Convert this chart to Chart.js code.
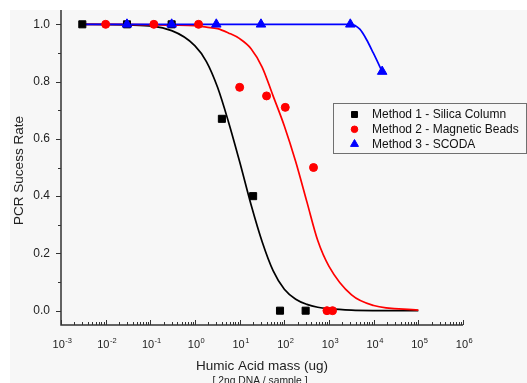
<!DOCTYPE html>
<html>
<head>
<meta charset="utf-8">
<script src="https://cdn.jsdelivr.net/npm/chart.js@4.4.1/dist/chart.umd.min.js"></script>
<style>
  body { margin: 0; background: #ffffff; }
  #wrap { width: 527px; height: 383px; }
</style>
</head>
<body>
<div id="wrap"><canvas id="grafico"></canvas></div>
<script>
// measured points
const method1X = [0.003, 0.03, 0.3, 4, 20, 80, 300]
const method1Y = [1.0, 1.0, 1.0, 0.67, 0.40, 0.0, 0.0]
const method2X = [0.01, 0.12, 1.2, 10, 40, 105, 450, 900, 1200]
const method2Y = [1.0, 1.0, 1.0, 0.78, 0.75, 0.71, 0.50, 0.0, 0.0]
const method3X = [0.03, 0.3, 3, 30, 3000, 15500]
const method3Y = [1.0, 1.0, 1.0, 1.0, 1.0, 0.835]

// fitted curves
const fitX = [0.003, 0.03, 0.3, 1, 1.8, 3.2, 5.6, 10, 18, 32, 56, 100, 180, 320, 560, 1000, 3200, 10000, 100000]
const fit1Y = [1.0, 0.998, 0.978, 0.925, 0.87, 0.78, 0.66, 0.52, 0.37, 0.24, 0.14, 0.075, 0.04, 0.022, 0.012, 0.007, 0.002, 0.0005, 0.0]
const fit2Y = [1.0, 1.0, 0.997, 0.995, 0.99, 0.985, 0.97, 0.95, 0.915, 0.85, 0.75, 0.645, 0.52, 0.38, 0.245, 0.155, 0.055, 0.018, 0.002]
const fit3X = [0.003, 0.03, 0.3, 3, 30, 300, 3000, 4900, 6900, 9800, 15500]
const fit3Y = [1.0, 1.0, 1.0, 1.0, 1.0, 1.0, 1.0, 0.983, 0.947, 0.90, 0.835]

const legendas = ['Method 1 - Silica Column', 'Method 2 - Magnetic Beads', 'Method 3 - SCODA']
const yMajor = [0.0, 0.2, 0.4, 0.6, 0.8, 1.0]
const yMinor = [0.1, 0.3, 0.5, 0.7, 0.9]
const xDecadas = [-3, -2, -1, 0, 1, 2, 3, 4, 5, 6]
const tituloX = 'Humic Acid mass (ug)'
const subtituloX = '[ 2ng DNA / sample ]'
const tituloY = 'PCR Sucess Rate'

function pares(xs, ys) {
    return xs.map((x, i) => ({ x: x, y: ys[i] }))
}

const fundo = {
    id: 'fundo',
    beforeDraw(chart) {
        const ctx = chart.ctx
        ctx.save()
        ctx.fillStyle = '#ffffff'
        ctx.fillRect(0, 0, chart.width, chart.height)
        ctx.fillStyle = '#f7f7f7'
        ctx.fillRect(10, 10, chart.width - 10, chart.height - 10)
        ctx.restore()
    }
}

const eixos = {
    id: 'eixos',
    afterDraw(chart) {
        const ctx = chart.ctx
        const x = chart.scales.x
        const y = chart.scales.y
        const area = chart.chartArea
        ctx.save()
        ctx.strokeStyle = '#333333'
        ctx.fillStyle = '#222222'
        ctx.lineWidth = 1.5
        ctx.beginPath()
        ctx.moveTo(area.left, area.top)
        ctx.lineTo(area.left, area.bottom)
        ctx.lineTo(area.right, area.bottom)
        ctx.stroke()

        ctx.lineWidth = 1
        ctx.beginPath()
        yMajor.forEach(v => {
            const py = Math.round(y.getPixelForValue(v)) + 0.5
            ctx.moveTo(area.left - 5, py); ctx.lineTo(area.left, py)
        })
        yMinor.forEach(v => {
            const py = Math.round(y.getPixelForValue(v)) + 0.5
            ctx.moveTo(area.left - 3, py); ctx.lineTo(area.left, py)
        })
        xDecadas.forEach(d => {
            const px = Math.round(x.getPixelForValue(Math.pow(10, d))) + 0.5
            ctx.moveTo(px, area.bottom); ctx.lineTo(px, area.bottom - 5)
            if (d < 6) {
                for (let k = 2; k < 10; k++) {
                    const pm = Math.round(x.getPixelForValue(k * Math.pow(10, d))) + 0.5
                    ctx.moveTo(pm, area.bottom); ctx.lineTo(pm, area.bottom - 3)
                }
            }
        })
        ctx.stroke()

        ctx.font = '12px "Liberation Sans", Arial, sans-serif'
        ctx.textAlign = 'right'
        ctx.textBaseline = 'middle'
        yMajor.forEach(v => {
            ctx.fillText(v.toFixed(1), area.left - 11, y.getPixelForValue(v))
        })

        xDecadas.forEach(d => {
            const px = x.getPixelForValue(Math.pow(10, d))
            ctx.font = '11px "Liberation Sans", Arial, sans-serif'
            const wb = ctx.measureText('10').width
            ctx.font = '7.5px "Liberation Sans", Arial, sans-serif'
            const we = ctx.measureText(String(d)).width
            const x0 = px - (wb + we) / 2 + 1
            ctx.textAlign = 'left'
            ctx.textBaseline = 'alphabetic'
            ctx.font = '11px "Liberation Sans", Arial, sans-serif'
            ctx.fillText('10', x0, 348)
            ctx.font = '7.5px "Liberation Sans", Arial, sans-serif'
            ctx.fillText(String(d), x0 + wb + 0.5, 343)
        })

        ctx.textAlign = 'center'
        ctx.textBaseline = 'middle'
        ctx.font = '13.5px "Liberation Sans", Arial, sans-serif'
        ctx.fillText(tituloX, (area.left + area.right) / 2, 366)
        ctx.font = '10.3px "Liberation Sans", Arial, sans-serif'
        ctx.fillText(subtituloX, 260, 381)
        ctx.save()
        ctx.translate(19, (area.top + area.bottom) / 2 + 3)
        ctx.rotate(-Math.PI / 2)
        ctx.font = '13.5px "Liberation Sans", Arial, sans-serif'
        ctx.fillText(tituloY, 0, 0)
        ctx.restore()

        // legenda
        ctx.fillStyle = '#f7f7f7'
        ctx.fillRect(333, 103, 194, 50)
        ctx.strokeStyle = '#707070'
        ctx.lineWidth = 1
        ctx.strokeRect(333.5, 103.5, 193, 50)
        const estilos = [['rect', '#000000', 4.2], ['circle', '#ff0000', 3.3], ['triangle', '#0000ff', 4.6]]
        ctx.font = '12px "Liberation Sans", Arial, sans-serif'
        ctx.textAlign = 'left'
        ctx.textBaseline = 'middle'
        legendas.forEach((texto, i) => {
            const ly = 114.5 + i * 14.8
            ctx.fillStyle = estilos[i][1]
            ctx.strokeStyle = estilos[i][1]
            Chart.helpers.drawPoint(ctx, { pointStyle: estilos[i][0], radius: estilos[i][2], rotation: 0, borderWidth: 1 }, 354.5, ly)
            ctx.fillStyle = '#111111'
            ctx.fillText(texto, 372, ly + 0.5)
        })
        ctx.restore()
    }
}

const graficoHumico = new Chart(document.getElementById('grafico'), {
    type: 'scatter',
    data: {
        datasets: [
            { label: legendas[2], data: pares(method3X, method3Y), pointStyle: 'triangle', pointRadius: 5.5,
              backgroundColor: '#0000ff', borderColor: '#0000ff', borderWidth: 1, showLine: false, order: 0 },
            { label: legendas[1], data: pares(method2X, method2Y), pointStyle: 'circle', pointRadius: 4,
              backgroundColor: '#ff0000', borderColor: '#ff0000', borderWidth: 1, showLine: false, order: 1 },
            { label: legendas[0], data: pares(method1X, method1Y), pointStyle: 'rect', pointRadius: 5,
              backgroundColor: '#000000', borderColor: '#000000', borderWidth: 1, showLine: false, order: 2 },
            { label: 'fit3', data: pares(fit3X, fit3Y), showLine: true, pointRadius: 0, borderColor: '#0000ff',
              borderWidth: 1.7, cubicInterpolationMode: 'monotone', order: 3 },
            { label: 'fit2', data: pares(fitX, fit2Y), showLine: true, pointRadius: 0, borderColor: '#ff0000',
              borderWidth: 1.7, cubicInterpolationMode: 'monotone', order: 4 },
            { label: 'fit1', data: pares(fitX, fit1Y), showLine: true, pointRadius: 0, borderColor: '#000000',
              borderWidth: 1.7, cubicInterpolationMode: 'monotone', order: 5 }
        ]
    },
    options: {
        responsive: true,
        maintainAspectRatio: false,
        animation: false,
        layout: { padding: { left: 61, right: 64, top: 10, bottom: 58 } },
        plugins: { legend: { display: false }, tooltip: { enabled: false } },
        scales: {
            x: { type: 'logarithmic', min: 0.001, max: 1000000, display: false },
            y: { type: 'linear', min: -0.05, max: 1.05, display: false }
        }
    },
    plugins: [fundo, eixos]
});
</script>
</body>
</html>
